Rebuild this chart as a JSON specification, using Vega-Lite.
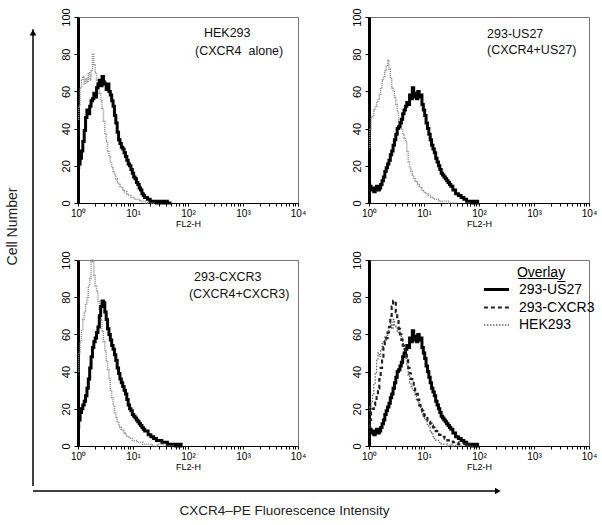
{
"$schema": "https://vega.github.io/schema/vega-lite/v6.json",
"background": "white",
"padding": {"left": 5, "top": 7, "right": 5, "bottom": 5},
"config": {
  "font": "Liberation Sans",
  "view": {"stroke": "#777", "strokeWidth": 1},
  "axis": {"grid": false, "titleFontWeight": "normal", "labelColor": "black", "titleColor": "black", "domainColor": "black", "tickColor": "black"}
},
"datasets": {
"hist": [
{"curve":"HEK293","x":1,"y":19},{"curve":"HEK293","x":1.059,"y":21},{"curve":"HEK293","x":1.122,"y":24},{"curve":"HEK293","x":1.189,"y":28},{"curve":"HEK293","x":1.259,"y":33},{"curve":"HEK293","x":1.334,"y":39},{"curve":"HEK293","x":1.413,"y":46},{"curve":"HEK293","x":1.496,"y":50},{"curve":"HEK293","x":1.585,"y":48},{"curve":"HEK293","x":1.679,"y":52},{"curve":"HEK293","x":1.778,"y":55},{"curve":"HEK293","x":1.884,"y":56},{"curve":"HEK293","x":1.995,"y":59},{"curve":"HEK293","x":2.113,"y":57},{"curve":"HEK293","x":2.239,"y":62},{"curve":"HEK293","x":2.371,"y":64},{"curve":"HEK293","x":2.512,"y":66},{"curve":"HEK293","x":2.661,"y":63},{"curve":"HEK293","x":2.818,"y":68},{"curve":"HEK293","x":2.985,"y":65},{"curve":"HEK293","x":3.162,"y":64},{"curve":"HEK293","x":3.35,"y":61},{"curve":"HEK293","x":3.548,"y":64},{"curve":"HEK293","x":3.758,"y":60},{"curve":"HEK293","x":3.981,"y":58},{"curve":"HEK293","x":4.217,"y":55},{"curve":"HEK293","x":4.467,"y":52},{"curve":"HEK293","x":4.732,"y":47},{"curve":"HEK293","x":5.012,"y":43},{"curve":"HEK293","x":5.309,"y":38},{"curve":"HEK293","x":5.623,"y":34},{"curve":"HEK293","x":5.957,"y":32},{"curve":"HEK293","x":6.31,"y":30},{"curve":"HEK293","x":6.683,"y":29},{"curve":"HEK293","x":7.079,"y":27},{"curve":"HEK293","x":7.499,"y":25},{"curve":"HEK293","x":7.943,"y":23},{"curve":"HEK293","x":8.414,"y":21},{"curve":"HEK293","x":8.913,"y":20},{"curve":"HEK293","x":9.441,"y":18},{"curve":"HEK293","x":10,"y":16},{"curve":"HEK293","x":10.59,"y":14},{"curve":"HEK293","x":11.22,"y":13},{"curve":"HEK293","x":11.89,"y":11},{"curve":"HEK293","x":12.59,"y":10},{"curve":"HEK293","x":13.34,"y":8},{"curve":"HEK293","x":14.13,"y":7},{"curve":"HEK293","x":14.96,"y":5},{"curve":"HEK293","x":15.85,"y":4},{"curve":"HEK293","x":16.79,"y":3},{"curve":"HEK293","x":17.78,"y":3},{"curve":"HEK293","x":18.84,"y":2},{"curve":"HEK293","x":19.95,"y":2},{"curve":"HEK293","x":21.13,"y":1},{"curve":"HEK293","x":22.39,"y":1},{"curve":"HEK293","x":25.12,"y":1},{"curve":"HEK293","x":28.18,"y":0},{"curve":"HEK293","x":31.62,"y":1},{"curve":"HEK293","x":35.48,"y":0},{"curve":"HEK293","x":39.81,"y":1},{"curve":"HEK293","x":44.67,"y":0},{"curve":"HEK293","x":50.12,"y":0},
{"curve":"ctrl-HEK293","x":1,"y":45},{"curve":"ctrl-HEK293","x":1.059,"y":52},{"curve":"ctrl-HEK293","x":1.122,"y":62},{"curve":"ctrl-HEK293","x":1.189,"y":66},{"curve":"ctrl-HEK293","x":1.259,"y":68},{"curve":"ctrl-HEK293","x":1.334,"y":64},{"curve":"ctrl-HEK293","x":1.413,"y":67},{"curve":"ctrl-HEK293","x":1.496,"y":65},{"curve":"ctrl-HEK293","x":1.585,"y":70},{"curve":"ctrl-HEK293","x":1.679,"y":66},{"curve":"ctrl-HEK293","x":1.778,"y":71},{"curve":"ctrl-HEK293","x":1.884,"y":80},{"curve":"ctrl-HEK293","x":1.995,"y":74},{"curve":"ctrl-HEK293","x":2.113,"y":70},{"curve":"ctrl-HEK293","x":2.239,"y":66},{"curve":"ctrl-HEK293","x":2.371,"y":62},{"curve":"ctrl-HEK293","x":2.512,"y":59},{"curve":"ctrl-HEK293","x":2.661,"y":55},{"curve":"ctrl-HEK293","x":2.818,"y":51},{"curve":"ctrl-HEK293","x":2.985,"y":44},{"curve":"ctrl-HEK293","x":3.162,"y":37},{"curve":"ctrl-HEK293","x":3.35,"y":33},{"curve":"ctrl-HEK293","x":3.548,"y":28},{"curve":"ctrl-HEK293","x":3.758,"y":25},{"curve":"ctrl-HEK293","x":3.981,"y":22},{"curve":"ctrl-HEK293","x":4.217,"y":19},{"curve":"ctrl-HEK293","x":4.467,"y":17},{"curve":"ctrl-HEK293","x":4.732,"y":15},{"curve":"ctrl-HEK293","x":5.012,"y":13},{"curve":"ctrl-HEK293","x":5.309,"y":11},{"curve":"ctrl-HEK293","x":5.623,"y":10},{"curve":"ctrl-HEK293","x":5.957,"y":9},{"curve":"ctrl-HEK293","x":6.31,"y":8},{"curve":"ctrl-HEK293","x":6.683,"y":7},{"curve":"ctrl-HEK293","x":7.079,"y":6},{"curve":"ctrl-HEK293","x":7.499,"y":6},{"curve":"ctrl-HEK293","x":7.943,"y":5},{"curve":"ctrl-HEK293","x":8.414,"y":4},{"curve":"ctrl-HEK293","x":8.913,"y":4},{"curve":"ctrl-HEK293","x":9.441,"y":3},{"curve":"ctrl-HEK293","x":10,"y":3},{"curve":"ctrl-HEK293","x":11.22,"y":2},{"curve":"ctrl-HEK293","x":12.59,"y":2},{"curve":"ctrl-HEK293","x":14.13,"y":1},{"curve":"ctrl-HEK293","x":15.85,"y":1},{"curve":"ctrl-HEK293","x":17.78,"y":0},{"curve":"ctrl-HEK293","x":19.95,"y":1},{"curve":"ctrl-HEK293","x":22.39,"y":0},{"curve":"ctrl-HEK293","x":25.12,"y":0},
{"curve":"293-US27","x":1,"y":10},{"curve":"293-US27","x":1.059,"y":9},{"curve":"293-US27","x":1.122,"y":7},{"curve":"293-US27","x":1.189,"y":8},{"curve":"293-US27","x":1.259,"y":6},{"curve":"293-US27","x":1.334,"y":7},{"curve":"293-US27","x":1.413,"y":9},{"curve":"293-US27","x":1.496,"y":7},{"curve":"293-US27","x":1.585,"y":8},{"curve":"293-US27","x":1.679,"y":10},{"curve":"293-US27","x":1.778,"y":12},{"curve":"293-US27","x":1.884,"y":14},{"curve":"293-US27","x":1.995,"y":17},{"curve":"293-US27","x":2.113,"y":19},{"curve":"293-US27","x":2.239,"y":21},{"curve":"293-US27","x":2.371,"y":23},{"curve":"293-US27","x":2.512,"y":26},{"curve":"293-US27","x":2.661,"y":28},{"curve":"293-US27","x":2.818,"y":31},{"curve":"293-US27","x":2.985,"y":34},{"curve":"293-US27","x":3.162,"y":37},{"curve":"293-US27","x":3.35,"y":40},{"curve":"293-US27","x":3.548,"y":41},{"curve":"293-US27","x":3.758,"y":43},{"curve":"293-US27","x":3.981,"y":45},{"curve":"293-US27","x":4.217,"y":48},{"curve":"293-US27","x":4.467,"y":50},{"curve":"293-US27","x":4.732,"y":52},{"curve":"293-US27","x":5.012,"y":54},{"curve":"293-US27","x":5.309,"y":53},{"curve":"293-US27","x":5.623,"y":58},{"curve":"293-US27","x":5.957,"y":56},{"curve":"293-US27","x":6.31,"y":62},{"curve":"293-US27","x":6.683,"y":57},{"curve":"293-US27","x":7.079,"y":59},{"curve":"293-US27","x":7.499,"y":56},{"curve":"293-US27","x":7.943,"y":60},{"curve":"293-US27","x":8.414,"y":57},{"curve":"293-US27","x":8.913,"y":58},{"curve":"293-US27","x":9.441,"y":53},{"curve":"293-US27","x":10,"y":50},{"curve":"293-US27","x":10.59,"y":47},{"curve":"293-US27","x":11.22,"y":43},{"curve":"293-US27","x":11.89,"y":40},{"curve":"293-US27","x":12.59,"y":37},{"curve":"293-US27","x":13.34,"y":34},{"curve":"293-US27","x":14.13,"y":31},{"curve":"293-US27","x":14.96,"y":29},{"curve":"293-US27","x":15.85,"y":27},{"curve":"293-US27","x":16.79,"y":24},{"curve":"293-US27","x":17.78,"y":22},{"curve":"293-US27","x":18.84,"y":20},{"curve":"293-US27","x":19.95,"y":18},{"curve":"293-US27","x":21.13,"y":16},{"curve":"293-US27","x":22.39,"y":15},{"curve":"293-US27","x":23.71,"y":14},{"curve":"293-US27","x":25.12,"y":13},{"curve":"293-US27","x":26.61,"y":12},{"curve":"293-US27","x":28.18,"y":11},{"curve":"293-US27","x":29.85,"y":10},{"curve":"293-US27","x":31.62,"y":9},{"curve":"293-US27","x":35.48,"y":7},{"curve":"293-US27","x":39.81,"y":5},{"curve":"293-US27","x":44.67,"y":4},{"curve":"293-US27","x":50.12,"y":3},{"curve":"293-US27","x":56.23,"y":2},{"curve":"293-US27","x":63.1,"y":1},{"curve":"293-US27","x":70.79,"y":1},{"curve":"293-US27","x":79.43,"y":0},{"curve":"293-US27","x":89.13,"y":1},{"curve":"293-US27","x":100,"y":0},
{"curve":"ctrl-US27","x":1,"y":30},{"curve":"ctrl-US27","x":1.059,"y":40},{"curve":"ctrl-US27","x":1.122,"y":46},{"curve":"ctrl-US27","x":1.189,"y":47},{"curve":"ctrl-US27","x":1.259,"y":50},{"curve":"ctrl-US27","x":1.334,"y":52},{"curve":"ctrl-US27","x":1.413,"y":54},{"curve":"ctrl-US27","x":1.496,"y":56},{"curve":"ctrl-US27","x":1.585,"y":58},{"curve":"ctrl-US27","x":1.679,"y":62},{"curve":"ctrl-US27","x":1.778,"y":66},{"curve":"ctrl-US27","x":1.884,"y":68},{"curve":"ctrl-US27","x":1.995,"y":71},{"curve":"ctrl-US27","x":2.113,"y":74},{"curve":"ctrl-US27","x":2.239,"y":77},{"curve":"ctrl-US27","x":2.371,"y":72},{"curve":"ctrl-US27","x":2.512,"y":67},{"curve":"ctrl-US27","x":2.661,"y":62},{"curve":"ctrl-US27","x":2.818,"y":60},{"curve":"ctrl-US27","x":2.985,"y":57},{"curve":"ctrl-US27","x":3.162,"y":53},{"curve":"ctrl-US27","x":3.35,"y":49},{"curve":"ctrl-US27","x":3.548,"y":44},{"curve":"ctrl-US27","x":3.758,"y":42},{"curve":"ctrl-US27","x":3.981,"y":40},{"curve":"ctrl-US27","x":4.217,"y":37},{"curve":"ctrl-US27","x":4.467,"y":35},{"curve":"ctrl-US27","x":4.732,"y":33},{"curve":"ctrl-US27","x":5.012,"y":28},{"curve":"ctrl-US27","x":5.309,"y":22},{"curve":"ctrl-US27","x":5.623,"y":19},{"curve":"ctrl-US27","x":5.957,"y":17},{"curve":"ctrl-US27","x":6.31,"y":15},{"curve":"ctrl-US27","x":6.683,"y":13},{"curve":"ctrl-US27","x":7.079,"y":12},{"curve":"ctrl-US27","x":7.499,"y":11},{"curve":"ctrl-US27","x":7.943,"y":10},{"curve":"ctrl-US27","x":8.414,"y":9},{"curve":"ctrl-US27","x":8.913,"y":8},{"curve":"ctrl-US27","x":9.441,"y":7},{"curve":"ctrl-US27","x":10,"y":6},{"curve":"ctrl-US27","x":11.22,"y":5},{"curve":"ctrl-US27","x":12.59,"y":4},{"curve":"ctrl-US27","x":14.13,"y":3},{"curve":"ctrl-US27","x":15.85,"y":2},{"curve":"ctrl-US27","x":17.78,"y":2},{"curve":"ctrl-US27","x":19.95,"y":1},{"curve":"ctrl-US27","x":25.12,"y":1},{"curve":"ctrl-US27","x":31.62,"y":0},{"curve":"ctrl-US27","x":39.81,"y":0},
{"curve":"293-CXCR3","x":1,"y":10},{"curve":"293-CXCR3","x":1.059,"y":14},{"curve":"293-CXCR3","x":1.122,"y":18},{"curve":"293-CXCR3","x":1.189,"y":20},{"curve":"293-CXCR3","x":1.259,"y":22},{"curve":"293-CXCR3","x":1.334,"y":24},{"curve":"293-CXCR3","x":1.413,"y":27},{"curve":"293-CXCR3","x":1.496,"y":31},{"curve":"293-CXCR3","x":1.585,"y":36},{"curve":"293-CXCR3","x":1.679,"y":42},{"curve":"293-CXCR3","x":1.778,"y":48},{"curve":"293-CXCR3","x":1.884,"y":53},{"curve":"293-CXCR3","x":1.995,"y":56},{"curve":"293-CXCR3","x":2.113,"y":58},{"curve":"293-CXCR3","x":2.239,"y":61},{"curve":"293-CXCR3","x":2.371,"y":64},{"curve":"293-CXCR3","x":2.512,"y":70},{"curve":"293-CXCR3","x":2.661,"y":75},{"curve":"293-CXCR3","x":2.818,"y":78},{"curve":"293-CXCR3","x":2.985,"y":77},{"curve":"293-CXCR3","x":3.162,"y":72},{"curve":"293-CXCR3","x":3.35,"y":68},{"curve":"293-CXCR3","x":3.548,"y":63},{"curve":"293-CXCR3","x":3.758,"y":60},{"curve":"293-CXCR3","x":3.981,"y":57},{"curve":"293-CXCR3","x":4.217,"y":54},{"curve":"293-CXCR3","x":4.467,"y":52},{"curve":"293-CXCR3","x":4.732,"y":49},{"curve":"293-CXCR3","x":5.012,"y":46},{"curve":"293-CXCR3","x":5.309,"y":42},{"curve":"293-CXCR3","x":5.623,"y":39},{"curve":"293-CXCR3","x":5.957,"y":36},{"curve":"293-CXCR3","x":6.31,"y":34},{"curve":"293-CXCR3","x":6.683,"y":32},{"curve":"293-CXCR3","x":7.079,"y":30},{"curve":"293-CXCR3","x":7.499,"y":28},{"curve":"293-CXCR3","x":7.943,"y":25},{"curve":"293-CXCR3","x":8.414,"y":22},{"curve":"293-CXCR3","x":8.913,"y":20},{"curve":"293-CXCR3","x":9.441,"y":19},{"curve":"293-CXCR3","x":10,"y":17},{"curve":"293-CXCR3","x":10.59,"y":16},{"curve":"293-CXCR3","x":11.22,"y":15},{"curve":"293-CXCR3","x":11.89,"y":14},{"curve":"293-CXCR3","x":12.59,"y":13},{"curve":"293-CXCR3","x":13.34,"y":12},{"curve":"293-CXCR3","x":14.13,"y":11},{"curve":"293-CXCR3","x":14.96,"y":10},{"curve":"293-CXCR3","x":15.85,"y":9},{"curve":"293-CXCR3","x":16.79,"y":8},{"curve":"293-CXCR3","x":17.78,"y":8},{"curve":"293-CXCR3","x":19.95,"y":6},{"curve":"293-CXCR3","x":22.39,"y":5},{"curve":"293-CXCR3","x":25.12,"y":4},{"curve":"293-CXCR3","x":28.18,"y":3},{"curve":"293-CXCR3","x":31.62,"y":3},{"curve":"293-CXCR3","x":35.48,"y":2},{"curve":"293-CXCR3","x":39.81,"y":2},{"curve":"293-CXCR3","x":44.67,"y":1},{"curve":"293-CXCR3","x":50.12,"y":1},{"curve":"293-CXCR3","x":56.23,"y":1},{"curve":"293-CXCR3","x":63.1,"y":0},{"curve":"293-CXCR3","x":70.79,"y":1},{"curve":"293-CXCR3","x":79.43,"y":0},
{"curve":"ctrl-CXCR3","x":1,"y":40},{"curve":"ctrl-CXCR3","x":1.059,"y":50},{"curve":"ctrl-CXCR3","x":1.122,"y":56},{"curve":"ctrl-CXCR3","x":1.189,"y":62},{"curve":"ctrl-CXCR3","x":1.259,"y":68},{"curve":"ctrl-CXCR3","x":1.334,"y":72},{"curve":"ctrl-CXCR3","x":1.413,"y":76},{"curve":"ctrl-CXCR3","x":1.496,"y":80},{"curve":"ctrl-CXCR3","x":1.585,"y":86},{"curve":"ctrl-CXCR3","x":1.679,"y":90},{"curve":"ctrl-CXCR3","x":1.778,"y":99},{"curve":"ctrl-CXCR3","x":1.884,"y":100},{"curve":"ctrl-CXCR3","x":1.995,"y":92},{"curve":"ctrl-CXCR3","x":2.113,"y":86},{"curve":"ctrl-CXCR3","x":2.239,"y":83},{"curve":"ctrl-CXCR3","x":2.371,"y":78},{"curve":"ctrl-CXCR3","x":2.512,"y":73},{"curve":"ctrl-CXCR3","x":2.661,"y":68},{"curve":"ctrl-CXCR3","x":2.818,"y":62},{"curve":"ctrl-CXCR3","x":2.985,"y":56},{"curve":"ctrl-CXCR3","x":3.162,"y":51},{"curve":"ctrl-CXCR3","x":3.35,"y":46},{"curve":"ctrl-CXCR3","x":3.548,"y":41},{"curve":"ctrl-CXCR3","x":3.758,"y":36},{"curve":"ctrl-CXCR3","x":3.981,"y":30},{"curve":"ctrl-CXCR3","x":4.217,"y":26},{"curve":"ctrl-CXCR3","x":4.467,"y":22},{"curve":"ctrl-CXCR3","x":4.732,"y":18},{"curve":"ctrl-CXCR3","x":5.012,"y":15},{"curve":"ctrl-CXCR3","x":5.309,"y":13},{"curve":"ctrl-CXCR3","x":5.623,"y":11},{"curve":"ctrl-CXCR3","x":5.957,"y":10},{"curve":"ctrl-CXCR3","x":6.31,"y":9},{"curve":"ctrl-CXCR3","x":6.683,"y":8},{"curve":"ctrl-CXCR3","x":7.079,"y":7},{"curve":"ctrl-CXCR3","x":7.499,"y":6},{"curve":"ctrl-CXCR3","x":7.943,"y":5},{"curve":"ctrl-CXCR3","x":8.414,"y":5},{"curve":"ctrl-CXCR3","x":8.913,"y":4},{"curve":"ctrl-CXCR3","x":9.441,"y":4},{"curve":"ctrl-CXCR3","x":10,"y":3},{"curve":"ctrl-CXCR3","x":11.22,"y":3},{"curve":"ctrl-CXCR3","x":12.59,"y":2},{"curve":"ctrl-CXCR3","x":14.13,"y":2},{"curve":"ctrl-CXCR3","x":15.85,"y":1},{"curve":"ctrl-CXCR3","x":19.95,"y":1},{"curve":"ctrl-CXCR3","x":25.12,"y":0},{"curve":"ctrl-CXCR3","x":31.62,"y":1},{"curve":"ctrl-CXCR3","x":39.81,"y":0}
]
},
"vconcat": [
  {
    "hconcat": [
      {
        "width": 2, "height": 469,
        "view": {"stroke": null},
        "data": {"values": [{}]},
        "layer": [
          {"mark": {"type": "rule", "color": "black", "strokeWidth": 1.5},
           "encoding": {
             "x": {"datum": 0, "type": "quantitative", "scale": {"domain": [0, 1]}, "axis": null},
             "y": {"datum": 0, "type": "quantitative", "scale": {"domain": [0, 1]}, "axis": {"title": "Cell Number", "domain": false, "ticks": false, "labels": false, "titleFontSize": 14, "titlePadding": 14, "titleColor": "#222", "titleY": 209}},
             "y2": {"datum": 0.974}}},
          {"mark": {"type": "point", "shape": "triangle-up", "filled": true, "color": "black", "size": 45, "opacity": 1},
           "encoding": {"x": {"datum": 0, "type": "quantitative"}, "y": {"datum": 0.967, "type": "quantitative"}}}
        ]
      },
      {
        "columns": 2,
        "bounds": "flush",
        "spacing": {"row": 57, "column": 71},
        "concat": [
          {
            "width": 220, "height": 186,
            "layer": [
              {"data": {"name": "hist"}, "transform": [{"filter": "datum.curve == 'ctrl-HEK293'"}],
               "mark": {"type": "line", "interpolate": "step", "color": "#8a8a8a", "strokeWidth": 1.5, "strokeDash": [1, 1]},
               "encoding": {
                 "x": {"field": "x", "type": "quantitative", "scale": {"type": "log", "domain": [1, 10000]}, "axis": {"title": "FL2-H", "values": [1,2,3,4,5,6,7,8,9,10,20,30,40,50,60,70,80,90,100,200,300,400,500,600,700,800,900,1000,2000,3000,4000,5000,6000,7000,8000,9000,10000], "labelExpr": "datum.value == 1 ? '10⁰' : datum.value == 10 ? '10¹' : datum.value == 100 ? '10²' : datum.value == 1000 ? '10³' : datum.value == 10000 ? '10⁴' : ''", "labelOverlap": false, "labelFlush": false, "tickSize": 3, "labelFontSize": 10, "labelPadding": 2, "titleFontSize": 9, "titlePadding": 1}},
                 "y": {"field": "y", "type": "quantitative", "scale": {"domain": [0, 100]}, "axis": {"title": null, "values": [0,20,40,60,80,100], "labelAngle": 270, "labelFontSize": 11, "labelOverlap": false, "labelFlush": false, "domainWidth": 3, "tickSize": 4, "labelPadding": 3}}}},
              {"data": {"name": "hist"}, "transform": [{"filter": "datum.curve == 'HEK293'"}],
               "mark": {"type": "line", "interpolate": "step", "color": "black", "strokeWidth": 3},
               "encoding": {
                 "x": {"field": "x", "type": "quantitative", "scale": {"type": "log", "domain": [1, 10000]}, "axis": {"title": "FL2-H", "values": [1,2,3,4,5,6,7,8,9,10,20,30,40,50,60,70,80,90,100,200,300,400,500,600,700,800,900,1000,2000,3000,4000,5000,6000,7000,8000,9000,10000], "labelExpr": "datum.value == 1 ? '10⁰' : datum.value == 10 ? '10¹' : datum.value == 100 ? '10²' : datum.value == 1000 ? '10³' : datum.value == 10000 ? '10⁴' : ''", "labelOverlap": false, "labelFlush": false, "tickSize": 3, "labelFontSize": 10, "labelPadding": 2, "titleFontSize": 9, "titlePadding": 1}},
                 "y": {"field": "y", "type": "quantitative", "scale": {"domain": [0, 100]}, "axis": {"title": null, "values": [0,20,40,60,80,100], "labelAngle": 270, "labelFontSize": 11, "labelOverlap": false, "labelFlush": false, "domainWidth": 3, "tickSize": 4, "labelPadding": 3}}}},
              {"data": {"values": [{}]}, "mark": {"type": "text", "align": "left", "fontSize": 12.5, "color": "#111"},
               "encoding": {
                 "x": {"datum": 195, "type": "quantitative", "axis": {"title": "FL2-H", "values": [1,2,3,4,5,6,7,8,9,10,20,30,40,50,60,70,80,90,100,200,300,400,500,600,700,800,900,1000,2000,3000,4000,5000,6000,7000,8000,9000,10000], "labelExpr": "datum.value == 1 ? '10⁰' : datum.value == 10 ? '10¹' : datum.value == 100 ? '10²' : datum.value == 1000 ? '10³' : datum.value == 10000 ? '10⁴' : ''", "labelOverlap": false, "labelFlush": false, "tickSize": 3, "labelFontSize": 10, "labelPadding": 2, "titleFontSize": 9, "titlePadding": 1}},
                 "y": {"datum": 91.4, "type": "quantitative", "axis": {"title": null, "values": [0,20,40,60,80,100], "labelAngle": 270, "labelFontSize": 11, "labelOverlap": false, "labelFlush": false, "domainWidth": 3, "tickSize": 4, "labelPadding": 3}},
                 "text": {"value": "HEK293"}}},
              {"data": {"values": [{}]}, "mark": {"type": "text", "align": "left", "fontSize": 12.5, "color": "#111"},
               "encoding": {
                 "x": {"datum": 134, "type": "quantitative", "axis": {"title": "FL2-H", "values": [1,2,3,4,5,6,7,8,9,10,20,30,40,50,60,70,80,90,100,200,300,400,500,600,700,800,900,1000,2000,3000,4000,5000,6000,7000,8000,9000,10000], "labelExpr": "datum.value == 1 ? '10⁰' : datum.value == 10 ? '10¹' : datum.value == 100 ? '10²' : datum.value == 1000 ? '10³' : datum.value == 10000 ? '10⁴' : ''", "labelOverlap": false, "labelFlush": false, "tickSize": 3, "labelFontSize": 10, "labelPadding": 2, "titleFontSize": 9, "titlePadding": 1}},
                 "y": {"datum": 81.8, "type": "quantitative", "axis": {"title": null, "values": [0,20,40,60,80,100], "labelAngle": 270, "labelFontSize": 11, "labelOverlap": false, "labelFlush": false, "domainWidth": 3, "tickSize": 4, "labelPadding": 3}},
                 "text": {"value": "(CXCR4\u00a0 alone)"}}}
            ]
          },
          {
            "width": 220, "height": 186,
            "layer": [
              {"data": {"name": "hist"}, "transform": [{"filter": "datum.curve == 'ctrl-US27'"}],
               "mark": {"type": "line", "interpolate": "step", "color": "#8a8a8a", "strokeWidth": 1.5, "strokeDash": [1, 1]},
               "encoding": {
                 "x": {"field": "x", "type": "quantitative", "scale": {"type": "log", "domain": [1, 10000]}, "axis": {"title": "FL2-H", "values": [1,2,3,4,5,6,7,8,9,10,20,30,40,50,60,70,80,90,100,200,300,400,500,600,700,800,900,1000,2000,3000,4000,5000,6000,7000,8000,9000,10000], "labelExpr": "datum.value == 1 ? '10⁰' : datum.value == 10 ? '10¹' : datum.value == 100 ? '10²' : datum.value == 1000 ? '10³' : datum.value == 10000 ? '10⁴' : ''", "labelOverlap": false, "labelFlush": false, "tickSize": 3, "labelFontSize": 10, "labelPadding": 2, "titleFontSize": 9, "titlePadding": 1}},
                 "y": {"field": "y", "type": "quantitative", "scale": {"domain": [0, 100]}, "axis": {"title": null, "values": [0,20,40,60,80,100], "labelAngle": 270, "labelFontSize": 11, "labelOverlap": false, "labelFlush": false, "domainWidth": 3, "tickSize": 4, "labelPadding": 3}}}},
              {"data": {"name": "hist"}, "transform": [{"filter": "datum.curve == '293-US27'"}],
               "mark": {"type": "line", "interpolate": "step", "color": "black", "strokeWidth": 3},
               "encoding": {
                 "x": {"field": "x", "type": "quantitative", "scale": {"type": "log", "domain": [1, 10000]}, "axis": {"title": "FL2-H", "values": [1,2,3,4,5,6,7,8,9,10,20,30,40,50,60,70,80,90,100,200,300,400,500,600,700,800,900,1000,2000,3000,4000,5000,6000,7000,8000,9000,10000], "labelExpr": "datum.value == 1 ? '10⁰' : datum.value == 10 ? '10¹' : datum.value == 100 ? '10²' : datum.value == 1000 ? '10³' : datum.value == 10000 ? '10⁴' : ''", "labelOverlap": false, "labelFlush": false, "tickSize": 3, "labelFontSize": 10, "labelPadding": 2, "titleFontSize": 9, "titlePadding": 1}},
                 "y": {"field": "y", "type": "quantitative", "scale": {"domain": [0, 100]}, "axis": {"title": null, "values": [0,20,40,60,80,100], "labelAngle": 270, "labelFontSize": 11, "labelOverlap": false, "labelFlush": false, "domainWidth": 3, "tickSize": 4, "labelPadding": 3}}}},
              {"data": {"values": [{}]}, "mark": {"type": "text", "align": "left", "fontSize": 12.5, "color": "#111"},
               "encoding": {
                 "x": {"datum": 140, "type": "quantitative", "axis": {"title": "FL2-H", "values": [1,2,3,4,5,6,7,8,9,10,20,30,40,50,60,70,80,90,100,200,300,400,500,600,700,800,900,1000,2000,3000,4000,5000,6000,7000,8000,9000,10000], "labelExpr": "datum.value == 1 ? '10⁰' : datum.value == 10 ? '10¹' : datum.value == 100 ? '10²' : datum.value == 1000 ? '10³' : datum.value == 10000 ? '10⁴' : ''", "labelOverlap": false, "labelFlush": false, "tickSize": 3, "labelFontSize": 10, "labelPadding": 2, "titleFontSize": 9, "titlePadding": 1}},
                 "y": {"datum": 90.9, "type": "quantitative", "axis": {"title": null, "values": [0,20,40,60,80,100], "labelAngle": 270, "labelFontSize": 11, "labelOverlap": false, "labelFlush": false, "domainWidth": 3, "tickSize": 4, "labelPadding": 3}},
                 "text": {"value": "293-US27"}}},
              {"data": {"values": [{}]}, "mark": {"type": "text", "align": "left", "fontSize": 12.5, "color": "#111"},
               "encoding": {
                 "x": {"datum": 140, "type": "quantitative", "axis": {"title": "FL2-H", "values": [1,2,3,4,5,6,7,8,9,10,20,30,40,50,60,70,80,90,100,200,300,400,500,600,700,800,900,1000,2000,3000,4000,5000,6000,7000,8000,9000,10000], "labelExpr": "datum.value == 1 ? '10⁰' : datum.value == 10 ? '10¹' : datum.value == 100 ? '10²' : datum.value == 1000 ? '10³' : datum.value == 10000 ? '10⁴' : ''", "labelOverlap": false, "labelFlush": false, "tickSize": 3, "labelFontSize": 10, "labelPadding": 2, "titleFontSize": 9, "titlePadding": 1}},
                 "y": {"datum": 82, "type": "quantitative", "axis": {"title": null, "values": [0,20,40,60,80,100], "labelAngle": 270, "labelFontSize": 11, "labelOverlap": false, "labelFlush": false, "domainWidth": 3, "tickSize": 4, "labelPadding": 3}},
                 "text": {"value": "(CXCR4+US27)"}}}
            ]
          },
          {
            "width": 220, "height": 186,
            "layer": [
              {"data": {"name": "hist"}, "transform": [{"filter": "datum.curve == 'ctrl-CXCR3'"}],
               "mark": {"type": "line", "interpolate": "step", "color": "#8a8a8a", "strokeWidth": 1.5, "strokeDash": [1, 1]},
               "encoding": {
                 "x": {"field": "x", "type": "quantitative", "scale": {"type": "log", "domain": [1, 10000]}, "axis": {"title": "FL2-H", "values": [1,2,3,4,5,6,7,8,9,10,20,30,40,50,60,70,80,90,100,200,300,400,500,600,700,800,900,1000,2000,3000,4000,5000,6000,7000,8000,9000,10000], "labelExpr": "datum.value == 1 ? '10⁰' : datum.value == 10 ? '10¹' : datum.value == 100 ? '10²' : datum.value == 1000 ? '10³' : datum.value == 10000 ? '10⁴' : ''", "labelOverlap": false, "labelFlush": false, "tickSize": 3, "labelFontSize": 10, "labelPadding": 2, "titleFontSize": 9, "titlePadding": 1}},
                 "y": {"field": "y", "type": "quantitative", "scale": {"domain": [0, 100]}, "axis": {"title": null, "values": [0,20,40,60,80,100], "labelAngle": 270, "labelFontSize": 11, "labelOverlap": false, "labelFlush": false, "domainWidth": 3, "tickSize": 4, "labelPadding": 3}}}},
              {"data": {"name": "hist"}, "transform": [{"filter": "datum.curve == '293-CXCR3'"}],
               "mark": {"type": "line", "interpolate": "step", "color": "black", "strokeWidth": 3},
               "encoding": {
                 "x": {"field": "x", "type": "quantitative", "scale": {"type": "log", "domain": [1, 10000]}, "axis": {"title": "FL2-H", "values": [1,2,3,4,5,6,7,8,9,10,20,30,40,50,60,70,80,90,100,200,300,400,500,600,700,800,900,1000,2000,3000,4000,5000,6000,7000,8000,9000,10000], "labelExpr": "datum.value == 1 ? '10⁰' : datum.value == 10 ? '10¹' : datum.value == 100 ? '10²' : datum.value == 1000 ? '10³' : datum.value == 10000 ? '10⁴' : ''", "labelOverlap": false, "labelFlush": false, "tickSize": 3, "labelFontSize": 10, "labelPadding": 2, "titleFontSize": 9, "titlePadding": 1}},
                 "y": {"field": "y", "type": "quantitative", "scale": {"domain": [0, 100]}, "axis": {"title": null, "values": [0,20,40,60,80,100], "labelAngle": 270, "labelFontSize": 11, "labelOverlap": false, "labelFlush": false, "domainWidth": 3, "tickSize": 4, "labelPadding": 3}}}},
              {"data": {"values": [{}]}, "mark": {"type": "text", "align": "left", "fontSize": 12.5, "color": "#111"},
               "encoding": {
                 "x": {"datum": 129, "type": "quantitative", "axis": {"title": "FL2-H", "values": [1,2,3,4,5,6,7,8,9,10,20,30,40,50,60,70,80,90,100,200,300,400,500,600,700,800,900,1000,2000,3000,4000,5000,6000,7000,8000,9000,10000], "labelExpr": "datum.value == 1 ? '10⁰' : datum.value == 10 ? '10¹' : datum.value == 100 ? '10²' : datum.value == 1000 ? '10³' : datum.value == 10000 ? '10⁴' : ''", "labelOverlap": false, "labelFlush": false, "tickSize": 3, "labelFontSize": 10, "labelPadding": 2, "titleFontSize": 9, "titlePadding": 1}},
                 "y": {"datum": 90.8, "type": "quantitative", "axis": {"title": null, "values": [0,20,40,60,80,100], "labelAngle": 270, "labelFontSize": 11, "labelOverlap": false, "labelFlush": false, "domainWidth": 3, "tickSize": 4, "labelPadding": 3}},
                 "text": {"value": "293-CXCR3"}}},
              {"data": {"values": [{}]}, "mark": {"type": "text", "align": "left", "fontSize": 12.5, "color": "#111"},
               "encoding": {
                 "x": {"datum": 104, "type": "quantitative", "axis": {"title": "FL2-H", "values": [1,2,3,4,5,6,7,8,9,10,20,30,40,50,60,70,80,90,100,200,300,400,500,600,700,800,900,1000,2000,3000,4000,5000,6000,7000,8000,9000,10000], "labelExpr": "datum.value == 1 ? '10⁰' : datum.value == 10 ? '10¹' : datum.value == 100 ? '10²' : datum.value == 1000 ? '10³' : datum.value == 10000 ? '10⁴' : ''", "labelOverlap": false, "labelFlush": false, "tickSize": 3, "labelFontSize": 10, "labelPadding": 2, "titleFontSize": 9, "titlePadding": 1}},
                 "y": {"datum": 81.5, "type": "quantitative", "axis": {"title": null, "values": [0,20,40,60,80,100], "labelAngle": 270, "labelFontSize": 11, "labelOverlap": false, "labelFlush": false, "domainWidth": 3, "tickSize": 4, "labelPadding": 3}},
                 "text": {"value": "(CXCR4+CXCR3)"}}}
            ]
          },
          {
            "width": 220, "height": 186,
            "data": {"name": "hist"},
            "transform": [{"filter": {"field": "curve", "oneOf": ["293-US27", "293-CXCR3", "HEK293"]}}],
            "mark": {"type": "line", "interpolate": "step"},
            "encoding": {
              "x": {"field": "x", "type": "quantitative", "scale": {"type": "log", "domain": [1, 10000]}, "axis": {"title": "FL2-H", "values": [1,2,3,4,5,6,7,8,9,10,20,30,40,50,60,70,80,90,100,200,300,400,500,600,700,800,900,1000,2000,3000,4000,5000,6000,7000,8000,9000,10000], "labelExpr": "datum.value == 1 ? '10⁰' : datum.value == 10 ? '10¹' : datum.value == 100 ? '10²' : datum.value == 1000 ? '10³' : datum.value == 10000 ? '10⁴' : ''", "labelOverlap": false, "labelFlush": false, "tickSize": 3, "labelFontSize": 10, "labelPadding": 2, "titleFontSize": 9, "titlePadding": 1}},
              "y": {"field": "y", "type": "quantitative", "scale": {"domain": [0, 100]}, "axis": {"title": null, "values": [0,20,40,60,80,100], "labelAngle": 270, "labelFontSize": 11, "labelOverlap": false, "labelFlush": false, "domainWidth": 3, "tickSize": 4, "labelPadding": 3}},
              "color": {"field": "curve", "type": "nominal", "sort": ["293-US27", "293-CXCR3", "HEK293"], "scale": {"domain": ["293-US27", "293-CXCR3", "HEK293"], "range": ["black", "#222", "#666"]}, "legend": {"title": "O\u0332v\u0332e\u0332r\u0332l\u0332a\u0332y\u0332", "orient": "none", "legendX": 455, "legendY": 249, "symbolType": "M-1.8,0H1.8", "symbolSize": 196, "labelFontSize": 14, "titleFontSize": 14, "titleFontWeight": "normal", "titlePadding": 1, "rowPadding": 2, "labelOffset": 14, "titleAnchor": "middle", "labelColor": "black", "titleColor": "black"}},
              "strokeDash": {"field": "curve", "type": "nominal", "sort": ["293-US27", "293-CXCR3", "HEK293"], "scale": {"domain": ["293-US27", "293-CXCR3", "HEK293"], "range": [[1, 0], [4, 3], [1.5, 1.5]]}, "legend": {"title": "O\u0332v\u0332e\u0332r\u0332l\u0332a\u0332y\u0332"}},
              "strokeWidth": {"field": "curve", "type": "nominal", "sort": ["293-US27", "293-CXCR3", "HEK293"], "scale": {"domain": ["293-US27", "293-CXCR3", "HEK293"], "range": [3, 1.3, 1.2]}, "legend": {"title": "O\u0332v\u0332e\u0332r\u0332l\u0332a\u0332y\u0332"}}
            }
          }
        ]
      }
    ],
    "spacing": 22
  },
  {
    "width": 502, "height": 2,
    "view": {"stroke": null},
    "data": {"values": [{}]},
    "layer": [
      {"mark": {"type": "rule", "color": "black", "strokeWidth": 1.5},
       "encoding": {
         "x": {"datum": 0, "type": "quantitative", "scale": {"domain": [0, 1]}, "axis": {"title": "CXCR4–PE  Fluorescence Intensity", "domain": false, "ticks": false, "labels": false, "titleFontSize": 13.5, "titlePadding": 10, "titleColor": "#222"}},
         "x2": {"datum": 0.925},
         "y": {"datum": 1, "type": "quantitative", "scale": {"domain": [0, 1]}, "axis": null}}},
      {"mark": {"type": "point", "shape": "triangle-right", "filled": true, "color": "black", "size": 45, "opacity": 1},
       "encoding": {"x": {"datum": 0.926, "type": "quantitative"}, "y": {"datum": 1, "type": "quantitative"}}}
    ]
  }
],
"spacing": 0
}
